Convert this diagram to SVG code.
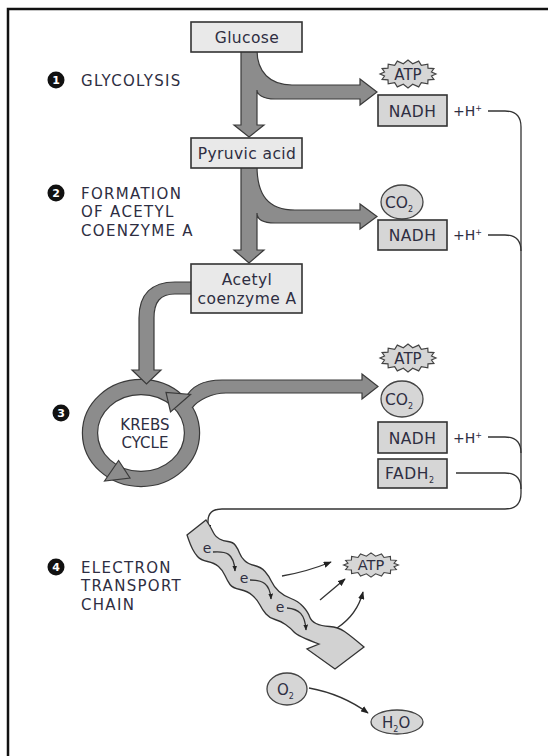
<svg xmlns="http://www.w3.org/2000/svg" width="548" height="756" viewBox="0 0 548 756">
<defs>
<style>
.box{fill:#e9e9e9;stroke:#333;stroke-width:1.6}
.cbox{fill:#d6d6d6;stroke:#333;stroke-width:1.6}
.thick{fill:#8c8c8c;stroke:#3a3a3a;stroke-width:1.2;stroke-linejoin:miter}
.gfill{fill:#8c8c8c;stroke:none}
.gline{fill:none;stroke:#3a3a3a;stroke-width:1.2}
.ln{fill:none;stroke:#333;stroke-width:1.3}
.t{font-family:"DejaVu Sans","Liberation Sans",sans-serif;fill:#2e2e42}
.lab{font-size:15px;letter-spacing:1.3px}
.bt{font-size:15.5px;text-anchor:middle;letter-spacing:0.4px}
.burst{fill:#d6d6d6;stroke:#444;stroke-width:1.2}
.oval{fill:#d6d6d6;stroke:#444;stroke-width:1.3}
.chain{fill:#d2d2d2;stroke:#333;stroke-width:1.3;stroke-linejoin:miter}
.num{fill:#111}
.numt{font-family:"DejaVu Sans","Liberation Sans",sans-serif;font-weight:bold;font-size:11px;fill:#fff;text-anchor:middle}
</style>
<polygon id="burst" class="burst" points="28,0 23.5,2 25.9,5.4 20,5.8 19.8,9.9 13.3,8.7 10.7,12.9 4.7,10.3 0,14 -4.7,10.3 -10.7,12.9 -13.3,8.7 -19.8,9.9 -20,5.8 -25.9,5.4 -23.5,2 -28,0 -23.5,-2 -25.9,-5.4 -20,-5.8 -19.8,-9.9 -13.3,-8.7 -10.7,-12.9 -4.7,-10.3 0,-14 4.7,-10.3 10.7,-12.9 13.3,-8.7 19.8,-9.9 20,-5.8 25.9,-5.4 23.5,-2"/>
<marker id="ah" viewBox="0 0 10 8" refX="9" refY="4" markerWidth="8" markerHeight="6.4" markerUnits="userSpaceOnUse" orient="auto"><path d="M0,0 L10,4 L0,8 z" fill="#222"/></marker>
<marker id="ahs" viewBox="0 0 10 8" refX="9" refY="4" markerWidth="6" markerHeight="5" markerUnits="userSpaceOnUse" orient="auto"><path d="M0,0 L10,4 L0,8 z" fill="#222"/></marker>
</defs>
<rect width="548" height="756" fill="#fff"/>
<path d="M8,756 V9 H548" fill="none" stroke="#111" stroke-width="2.5"/>

<g id="krebs">
<ellipse cx="141" cy="433" rx="51" ry="46" fill="none" stroke="#3a3a3a" stroke-width="16.4"/>
<ellipse cx="141" cy="433" rx="51" ry="46" fill="none" stroke="#8c8c8c" stroke-width="14"/>
<text class="t" x="145" y="430" font-size="15" text-anchor="middle">KREBS</text>
<text class="t" x="145" y="448" font-size="15" text-anchor="middle">CYCLE</text>
</g>

<g id="connectors">
<path class="thick" d="M241,50 L241,125 L234,125 L249,137 L264,125 L257,125 L257,90 C257,94 262,99 275,99 L360,99 L360,105 L377,92 L360,79 L360,85 L292,85 C270,85 257,72 257,50 Z"/>
<path class="thick" d="M241,166 L241,250 L234,250 L249,263 L264,250 L257,250 L257,213 C257,219 262,223 275,223 L360,223 L360,229 L377,216.5 L360,204 L360,210 L295,210 C268,210 257,195 257,166 Z"/>
<path class="thick" d="M195,282 L175,282 C152,282 139,294 139,318 L139,370 L132,370 L146.5,384 L161,370 L154,370 L154,318 C154,302 160,294 175,294 L195,294 Z"/>
<path class="gfill" d="M177,404 L185,399 C190,388 200,380 222,380 L362,380 L362,374 L378,386.5 L362,399 L362,393 L226,393 C212,393 198,400 192,408 L183,412 Z"/>
<path class="gline" d="M185,399 C190,388 200,380 222,380 L362,380 L362,374 L378,386.5 L362,399 L362,393 L226,393 C212,393 198,400 192,408"/>
<polygon class="thick" points="190.5,394.5 170.5,412 166,392.5"/>
<polygon class="thick" points="104.5,481 118.6,460.5 130,478"/>

<path class="ln" d="M488,111 H505 Q521,111 521,127 V493 Q521,509 505,509 H222 Q208,509 208,521 V532" marker-end="url(#ah)"/>
<path class="ln" d="M488,235 H505 Q521,235 521,251"/>
<path class="ln" d="M488,437 H505 Q521,437 521,453"/>
<path class="ln" d="M456,473 H505 Q521,473 521,489"/>
</g>

<g id="etc">
<path class="chain" d="M206,520 Q210,526 211.5,529 Q213,532 214.5,534.5 Q216,537 219.5,539 Q223,541 228,541.5 Q233,542 235.5,545.5 Q238,549 239.5,553 Q241,557 244.5,560.5 Q248,564 254.5,565.5 Q261,567 265,571.5 Q269,576 271.5,581.5 Q274,587 279,591.5 Q284,596 291,598.5 Q298,601 303,606.5 Q308,612 309.5,616.5 Q311,621 316,623.5 Q321,626 329.5,626.5 Q338,627 344.5,631.5 Q351,636 364,647 L335,669 L307,649 L319,644 Q297.5,636 294,632 Q290.5,628 285.5,624.5 Q280.5,621 275,619.5 Q269.5,618 266,614 Q262.5,610 260,605 Q257.5,600 252.5,595.5 Q247.5,591 240,589.5 Q232.5,588 230,584.5 Q227.5,581 225,575.5 Q222.5,570 218.5,566.5 Q214.5,563 207.5,561.5 Q200.5,560 197.5,556.5 Q194.5,553 192.5,549 Q190.5,545 188.75,540 L187,535 Z"/>
<text class="t" x="207" y="553" font-size="14" text-anchor="middle">e</text>
<text class="t" x="244" y="583" font-size="14" text-anchor="middle">e</text>
<text class="t" x="280" y="612" font-size="14" text-anchor="middle">e</text>
<path class="ln" d="M213,552 C226,551 234,553 235,571" marker-end="url(#ahs)"/>
<path class="ln" d="M250,580 C262,580 270,583 271,599" marker-end="url(#ahs)"/>
<path class="ln" d="M287,608 C299,609 305,614 306,630" marker-end="url(#ahs)"/>
<path class="ln" d="M282,576 Q306,572 331,562" marker-end="url(#ah)"/>
<path class="ln" d="M320,600 L345,579" marker-end="url(#ah)"/>
<path class="ln" d="M337,628 Q357,615 363,592" marker-end="url(#ah)"/>
<path class="ln" d="M309,688 Q342,694 368,713" marker-end="url(#ah)"/>
</g>

<g id="glucose"><rect class="box" x="191" y="22" width="111" height="30"/><text class="t bt" x="247" y="42.5">Glucose</text></g>
<g id="pyruvic"><rect class="box" x="191" y="138" width="111" height="30"/><text class="t bt" x="247" y="158.5">Pyruvic acid</text></g>
<g id="acetyl"><rect class="box" x="191" y="264" width="111" height="49"/><text class="t bt" x="247" y="285">Acetyl</text><text class="t bt" x="247" y="304">coenzyme A</text></g>

<g id="atp1"><use href="#burst" x="408" y="74"/><text class="t" x="408" y="79.5" font-size="15" text-anchor="middle">ATP</text></g>
<g id="nadh1"><rect class="cbox" x="378" y="95" width="69" height="31"/><text class="t bt" x="412.5" y="116.5" letter-spacing="1">NADH</text><text class="t" x="453" y="116" font-size="14">+H<tspan dy="-5" font-size="8">+</tspan></text></g>
<g id="co2a"><ellipse class="oval" cx="402" cy="202" rx="21" ry="17"/><text class="t" x="385" y="207.5" font-size="15.5">CO<tspan dy="4" font-size="8">2</tspan></text></g>
<g id="nadh2"><rect class="cbox" x="378" y="220" width="69" height="30"/><text class="t bt" x="412.5" y="240.5" letter-spacing="1">NADH</text><text class="t" x="453" y="240" font-size="14">+H<tspan dy="-5" font-size="8">+</tspan></text></g>
<g id="atp2"><use href="#burst" x="408" y="358"/><text class="t" x="408" y="363.5" font-size="15" text-anchor="middle">ATP</text></g>
<g id="co2b"><ellipse class="oval" cx="402" cy="399" rx="21" ry="18"/><text class="t" x="385" y="404.5" font-size="15.5">CO<tspan dy="4" font-size="8">2</tspan></text></g>
<g id="nadh3"><rect class="cbox" x="378" y="422" width="69" height="31"/><text class="t bt" x="412.5" y="443.5" letter-spacing="1">NADH</text><text class="t" x="453" y="443" font-size="14">+H<tspan dy="-5" font-size="8">+</tspan></text></g>
<g id="fadh2"><rect class="cbox" x="378" y="459" width="69" height="29"/><text class="t" x="385" y="479" font-size="15.5" letter-spacing="0.6">FADH<tspan dy="4" font-size="8">2</tspan></text></g>
<g id="atp3"><use href="#burst" transform="translate(371,565) scale(0.98,0.86)"/><text class="t" x="371" y="570" font-size="14.5" text-anchor="middle">ATP</text></g>
<g id="o2"><ellipse class="oval" cx="287" cy="689" rx="20" ry="16"/><text class="t" x="277" y="694.5" font-size="15">O<tspan dy="4" font-size="8">2</tspan></text></g>
<g id="h2o"><ellipse class="oval" cx="397" cy="722" rx="26" ry="12"/><text class="t" x="382" y="727.5" font-size="15">H<tspan dy="4" font-size="8">2</tspan><tspan dy="-4">O</tspan></text></g>

<g id="step1"><circle class="num" cx="56" cy="80" r="8.5"/><text class="numt" x="56" y="84">1</text><text class="t lab" x="81" y="85.5">GLYCOLYSIS</text></g>
<g id="step2"><circle class="num" cx="56" cy="193" r="8.5"/><text class="numt" x="56" y="197">2</text><text class="t lab" x="81" y="198.5">FORMATION</text><text class="t lab" x="81" y="217">OF ACETYL</text><text class="t lab" x="81" y="235.5">COENZYME A</text></g>
<g id="step3"><circle class="num" cx="61" cy="413" r="8.5"/><text class="numt" x="61" y="417">3</text></g>
<g id="step4"><circle class="num" cx="56" cy="567" r="8.5"/><text class="numt" x="56" y="571">4</text><text class="t lab" x="81" y="572.5">ELECTRON</text><text class="t lab" x="81" y="590.5">TRANSPORT</text><text class="t lab" x="81" y="609.5">CHAIN</text></g>
</svg>
